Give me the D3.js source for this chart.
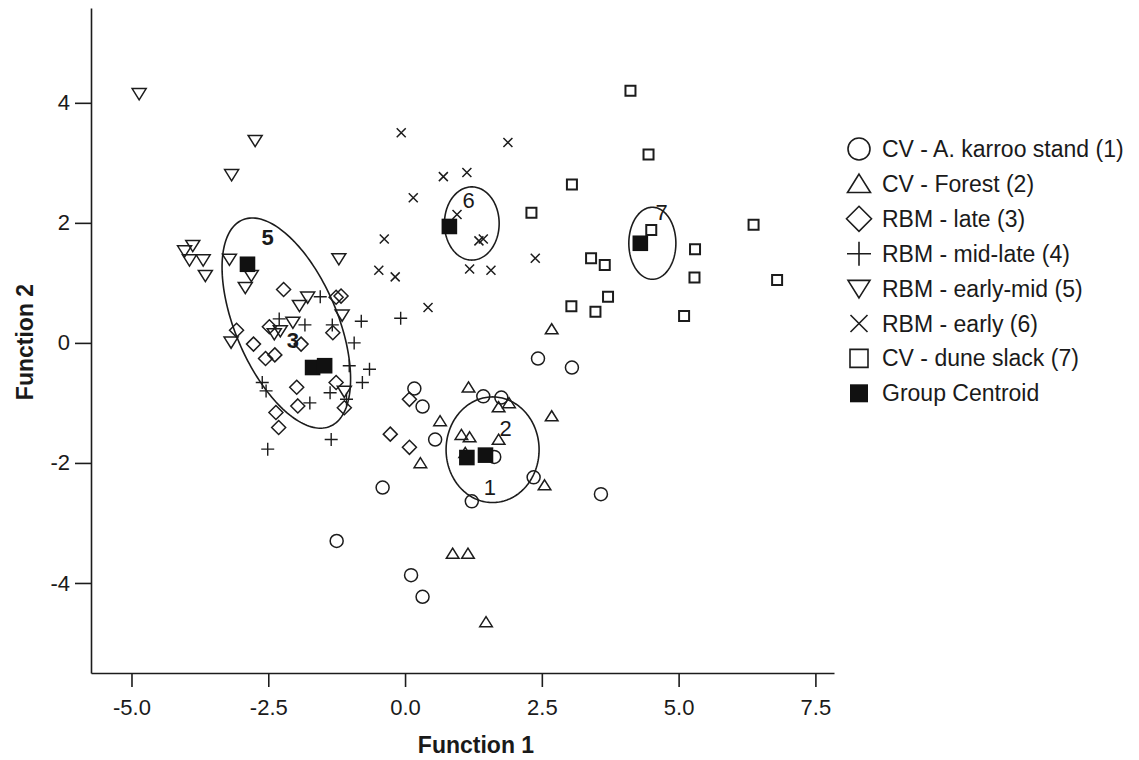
<!DOCTYPE html>
<html>
<head>
<meta charset="utf-8">
<script src="https://cdn.jsdelivr.net/npm/d3@7"></script>
<style>
  body { margin: 0; background: #fff; }
  text { font-family: "Liberation Sans", Arial, sans-serif; fill: #1a1a1a; }
</style>
</head>
<body>
<div id="chart"></div>
<script>
// discriminant scores, one array per group: [function 1, function 2]
var karrooStand = [[2.43,-0.26],[3.05,-0.41],[0.17,-0.76],[0.32,-1.06],[1.43,-0.89],[1.76,-0.91],[0.55,-1.61],[1.63,-1.90],
  [-0.41,-2.41],[2.35,-2.24],[3.58,-2.52],[1.22,-2.64],[0.11,-3.87],[0.32,-4.23],[-1.25,-3.30]];
var forest = [[2.68,0.23],[1.16,-0.74],[1.71,-1.07],[1.90,-1.00],[2.68,-1.22],[0.64,-1.30],[0.28,-2.00],[1.03,-1.53],
  [1.18,-1.57],[1.71,-1.61],[2.55,-2.37],[0.87,-3.51],[1.15,-3.51],[1.48,-4.65],[1.10,-1.83]];
var rbmLate = [[-2.22,0.89],[-1.26,0.76],[-1.17,0.78],[-1.32,0.17],[-2.48,0.27],[-3.08,0.21],[-2.77,-0.02],[-1.90,-0.02],
  [-2.55,-0.26],[-2.38,-0.20],[-1.98,-0.74],[-1.26,-0.66],[-1.96,-1.05],[-1.11,-1.08],[-2.36,-1.16],[-2.31,-1.41],
  [-0.27,-1.52],[0.08,-1.74],[0.08,-0.94]];
var rbmMidLate = [[-0.08,0.41],[-1.55,0.77],[-0.80,0.36],[-2.30,0.40],[-1.83,0.30],[-1.33,0.30],[-0.93,0.00],[-1.02,-0.38],
  [-0.65,-0.44],[-0.78,-0.66],[-2.61,-0.66],[-2.54,-0.80],[-1.37,-0.83],[-1.07,-0.94],[-1.74,-1.00],[-1.35,-1.61],[-2.51,-1.77]];
var rbmEarlyMid = [[-4.86,4.15],[-2.74,3.37],[-3.17,2.80],[-3.88,1.62],[-4.03,1.53],[-3.94,1.38],[-3.69,1.38],[-3.65,1.12],
  [-3.21,1.39],[-1.21,1.40],[-2.92,0.92],[-2.81,1.12],[-1.78,0.76],[-1.93,0.62],[-1.15,0.46],[-2.05,0.34],[-2.39,0.15],
  [-2.28,0.20],[-3.18,0.01],[-1.11,-0.81]];
var rbmEarly = [[-0.07,3.50],[0.15,2.42],[-0.38,1.73],[-0.48,1.21],[-0.18,1.10],[1.88,3.34],[0.70,2.77],[1.13,2.84],
  [0.95,2.14],[1.35,1.70],[1.43,1.73],[1.18,1.23],[1.57,1.21],[2.38,1.41],[0.42,0.59]];
var duneSlack = [[4.12,4.20],[4.45,3.14],[3.05,2.64],[2.31,2.17],[4.50,1.88],[6.37,1.97],[5.30,1.56],[5.29,1.09],
  [6.80,1.05],[3.40,1.41],[3.65,1.30],[3.71,0.77],[3.04,0.61],[3.48,0.52],[5.10,0.45]];
var centroids = [[1.47,-1.87],[1.13,-1.91],[-1.69,-0.41],[-1.47,-0.38],[-2.88,1.31],[0.81,1.94],[4.30,1.66]];

var groupNames = ["CV - A. karroo stand (1)", "CV - Forest (2)", "RBM - late (3)", "RBM - mid-late (4)",
  "RBM - early-mid (5)", "RBM - early (6)", "CV - dune slack (7)", "Group Centroid"];

// hand drawn ellipses: centre, first semi-axis vector, second semi-axis vector (data units)
var ellipses = [
  { c: [-2.17, 0.33], u: [0.80, -1.72], v: [0.86, 0.33] },
  { c: [1.22, 1.99], u: [0.50, 0], v: [0, 0.61] },
  { c: [4.52, 1.66], u: [0.43, 0], v: [0, 0.60] },
  { c: [1.60, -1.78], u: [0.85, 0], v: [0, 0.88] }
];
var ellipseLabels = [["5", -2.51, 1.77], ["3", -2.05, 0.05], ["6", 1.16, 2.38], ["7", 4.69, 2.18],
  ["2", 1.84, -1.42], ["1", 1.55, -2.40]];

var xTicks = [-5, -2.5, 0, 2.5, 5, 7.5];
var yTicks = [-4, -2, 0, 2, 4];

var W = 1139, H = 760;
var ink = "#1c1c1c";

var x = d3.scaleLinear().domain([-5.74, 7.84]).range([91, 834]);
var y = d3.scaleLinear().domain([-5.5, 5.58]).range([673, 8]);

var svg = d3.select("#chart").append("svg").attr("width", W).attr("height", H);

//marker shapes, s = half width in px
function glyph(type, s) {
  if (type == "circle") return d3.symbol(d3.symbolCircle, Math.PI * s * s)();
  if (type == "triUp") return "M0," + (-s * 0.85) + "L" + s + "," + (s * 0.75) + "L" + (-s) + "," + (s * 0.75) + "Z";
  if (type == "triDown") return "M0," + (s * 0.85) + "L" + s + "," + (-s * 0.75) + "L" + (-s) + "," + (-s * 0.75) + "Z";
  if (type == "diamond") return "M0," + (-s) + "L" + s + ",0L0," + s + "L" + (-s) + ",0Z";
  if (type == "plus") return "M" + (-s) + ",0H" + s + "M0," + (-s) + "V" + s;
  if (type == "times") return "M" + (-s) + "," + (-s) + "L" + s + "," + s + "M" + s + "," + (-s) + "L" + (-s) + "," + s;
  return "M" + (-s) + "," + (-s) + "H" + s + "V" + s + "H" + (-s) + "Z";
}

var groups = [
  { data: karrooStand, type: "circle", s: 6.5, lw: 1.5 },
  { data: forest, type: "triUp", s: 6.3, lw: 1.5 },
  { data: rbmLate, type: "diamond", s: 7, lw: 1.5 },
  { data: rbmMidLate, type: "plus", s: 6.5, lw: 1.4 },
  { data: rbmEarlyMid, type: "triDown", s: 7, lw: 1.5 },
  { data: rbmEarly, type: "times", s: 4.5, lw: 1.5 },
  { data: duneSlack, type: "square", s: 5, lw: 2 }
];

// axes (plain hyphen for negatives, as in the figure)
var xAxis = svg.append("g")
  .attr("transform", "translate(0," + y.range()[0] + ")")
  .call(d3.axisBottom(x).tickValues(xTicks).tickFormat(function (d) { return d.toFixed(1); })
    .tickSize(14).tickSizeOuter(0).tickPadding(12));
var yAxis = svg.append("g")
  .attr("transform", "translate(" + x.range()[0] + ",0)")
  .call(d3.axisLeft(y).tickValues(yTicks).tickFormat(function (d) { return String(d); })
    .tickSize(16).tickSizeOuter(0).tickPadding(5));
[xAxis, yAxis].forEach(function (a) {
  a.select(".domain").attr("stroke", ink).attr("stroke-width", 1.6);
  a.selectAll(".tick line").attr("stroke", ink).attr("stroke-width", 1.6);
  a.selectAll(".tick text").style("font-size", "22px").attr("fill", ink);
});

svg.append("text")
  .attr("x", 476).attr("y", 753)
  .attr("text-anchor", "middle")
  .style("font-size", "23px").style("font-weight", "bold")
  .text("Function 1");
svg.append("text")
  .attr("transform", "translate(33,342) rotate(-90)")
  .attr("text-anchor", "middle")
  .style("font-size", "23px").style("font-weight", "bold")
  .text("Function 2");

// ellipses
var ellLine = d3.line().curve(d3.curveLinearClosed);
svg.selectAll(".ell")
  .data(ellipses)
  .enter().append("path")
  .attr("class", "ell")
  .attr("d", function (e) {
    return ellLine(d3.range(0, 2 * Math.PI, Math.PI / 90).map(function (t) {
      return [x(e.c[0] + e.u[0] * Math.cos(t) + e.v[0] * Math.sin(t)),
              y(e.c[1] + e.u[1] * Math.cos(t) + e.v[1] * Math.sin(t))];
    }));
  })
  .attr("fill", "none")
  .attr("stroke", ink)
  .attr("stroke-width", 1.6);

// points
groups.forEach(function (g) {
  svg.append("g").selectAll("path")
    .data(g.data)
    .enter().append("path")
    .attr("transform", function (d) { return "translate(" + x(d[0]) + "," + y(d[1]) + ")"; })
    .attr("d", glyph(g.type, g.s))
    .attr("fill", "none")
    .attr("stroke", ink)
    .attr("stroke-width", g.lw);
});

// group centroids
svg.append("g").selectAll("path")
  .data(centroids)
  .enter().append("path")
  .attr("transform", function (d) { return "translate(" + x(d[0]) + "," + y(d[1]) + ")"; })
  .attr("d", glyph("square", 7.8))
  .attr("fill", "#111");

svg.append("g").selectAll("text")
  .data(ellipseLabels)
  .enter().append("text")
  .attr("x", function (d) { return x(d[1]); })
  .attr("y", function (d) { return y(d[2]); })
  .attr("text-anchor", "middle")
  .attr("dy", "0.36em")
  .style("font-size", "22px")
  .style("font-weight", function (d) { return d[0] == "5" || d[0] == "3" ? "bold" : "normal"; })
  .text(function (d) { return d[0]; });

// legend
var legendTypes = ["circle", "triUp", "diamond", "plus", "triDown", "times", "square", "centroid"];
var legendSize = [11, 11.5, 12.5, 12, 11, 8.5, 9, 9];
var leg = svg.append("g").attr("transform", "translate(859,149)");
var item = leg.selectAll(".item")
  .data(groupNames)
  .enter().append("g")
  .attr("class", "item")
  .attr("transform", function (d, i) { return "translate(0," + (i * 34.9) + ")"; });
item.append("path")
  .attr("d", function (d, i) { return glyph(legendTypes[i] == "centroid" ? "square" : legendTypes[i], legendSize[i]); })
  .attr("fill", function (d, i) { return legendTypes[i] == "centroid" ? "#111" : "none"; })
  .attr("stroke", function (d, i) { return legendTypes[i] == "centroid" ? "none" : ink; })
  .attr("stroke-width", 1.6);
item.append("text")
  .attr("x", 23)
  .attr("y", 8)
  .style("font-size", "23px")
  .text(function (d) { return d; });
</script>
</body>
</html>
